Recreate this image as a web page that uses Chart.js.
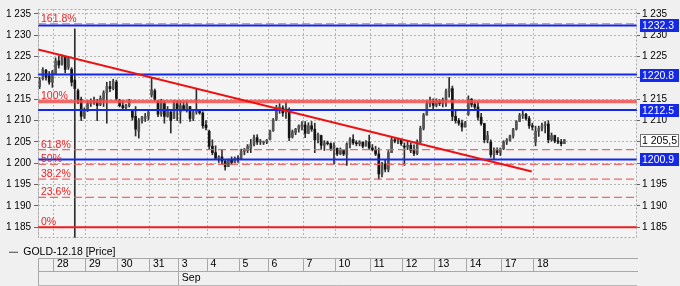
<!DOCTYPE html>
<html>
<head>
<meta charset="utf-8">
<script src="https://cdn.jsdelivr.net/npm/chart.js@4.4.0/dist/chart.umd.min.js"></script>
<style>
  html, body { margin: 0; padding: 0; background: #f0f0f0; }
  canvas { display: block; }
</style>
</head>
<body>
<canvas id="chart_gold" width="680" height="286"></canvas>
<script>
// GOLD-12.18 price bars, one row per trading day (27 Aug partial ... 18 Sep)
var opens = [
  1218, 1219.8, 1221.8, 1220.5, 1219,
  1221, 1224, 1223.2, 1225, 1222.5, 1222, 1219.5, 1217, 1215, 1211,
  1212.5, 1214, 1214.5, 1214.5, 1213.8, 1215, 1216.5, 1218, 1217.5, 1219,
  1214.8, 1213.5, 1213, 1213.5, 1212.4, 1211, 1207.5, 1210, 1210.5, 1211,
  1216, 1217, 1214.5, 1211.5, 1214, 1211, 1212, 1210.5, 1214,
  1212, 1213.5, 1212.8, 1213.3, 1210.5, 1212, 1212.3, 1211.8, 1209,
  1207.5, 1204, 1202.5, 1201.2, 1201.5, 1200.5, 1199.2, 1200.8, 1200.2, 1201.2,
  1201, 1202.8, 1203, 1203.5, 1204.5, 1206, 1205, 1204.8, 1205,
  1205.6, 1207.6, 1210.3, 1212.5, 1213, 1212, 1212.5, 1206.2, 1207.2, 1208, 1208.5,
  1209, 1207, 1208.8, 1208, 1205.5, 1206.5, 1204.2, 1204.8, 1204.6, 1203.5,
  1203.5, 1202.2, 1203, 1202, 1204.5, 1205.6, 1204.8, 1204.6, 1205, 1204, 1205,
  1203.6, 1203.2, 1202.2, 1197.5, 1199.8, 1198.6, 1202.5, 1205.5, 1205.2, 1205.4,
  1204, 1203.8, 1204.2, 1203, 1202.3, 1205, 1208.2, 1211.3, 1214, 1214.5,
  1213.6, 1214.5, 1214, 1215, 1216.8, 1217.5, 1211, 1210, 1209.4, 1208.5,
  1211.5, 1215, 1213.8, 1213.2, 1210.8, 1209.3, 1205.5, 1205, 1202, 1203, 1202.5,
  1203.4, 1205, 1205.4, 1206.4, 1208, 1209.8, 1211.2, 1211.5, 1210.5, 1208.8,
  1205, 1207.5, 1208.2, 1208.8, 1209.2, 1205.5, 1206.5, 1205.2, 1205, 1204.6
];
var highs = [
  1220.1, 1222.4, 1222, 1221.5, 1221.8,
  1224.7, 1225.2, 1225.4, 1225, 1225, 1222.4, 1231.5, 1217.4, 1215.5, 1213,
  1214.6, 1215.1, 1215.5, 1215, 1215.8, 1217, 1219, 1219.2, 1219.7, 1219.5,
  1215, 1214.7, 1213.8, 1215, 1212.6, 1213.3, 1210.5, 1211, 1211.7, 1212.4,
  1220, 1217.4, 1214.7, 1215, 1214.6, 1213.3, 1212.6, 1214.7, 1214.7,
  1214.6, 1214.4, 1214.4, 1213.3, 1212.4, 1217.4, 1212.6, 1212.1, 1210,
  1207.8, 1205.5, 1204.1, 1201.8, 1203.2, 1200.9, 1201, 1201.5, 1201.5, 1201.8,
  1203.3, 1203.5, 1204.4, 1205.6, 1206.6, 1206.7, 1205.6, 1205.2, 1205.6,
  1207.8, 1210.5, 1213.6, 1214, 1213.5, 1214.4, 1213, 1207.8, 1208.2, 1209, 1209.8,
  1209.8, 1209.5, 1209.8, 1209.4, 1207.1, 1206.6, 1205.3, 1205.2, 1204.8, 1204.8,
  1203.6, 1203.6, 1203, 1204.8, 1206, 1206.7, 1205.3, 1205.3, 1204.8, 1205.3, 1206.6,
  1204.4, 1204, 1203.6, 1200.2, 1200.7, 1203, 1206, 1206, 1205.6, 1205.6,
  1204.8, 1205.3, 1204.8, 1204.3, 1205.5, 1208.7, 1211.7, 1214.6, 1215.5, 1215.1,
  1215.1, 1214.9, 1215.3, 1217.4, 1220.1, 1218.1, 1212.4, 1210.5, 1210.1, 1209.8,
  1215.8, 1215.2, 1214.3, 1214.4, 1211.7, 1209.4, 1207.5, 1205.5, 1203.6, 1203.6, 1203.6,
  1205.3, 1205.8, 1206.6, 1208.2, 1210, 1211.7, 1212.3, 1211.7, 1211, 1209.4,
  1208.7, 1208.7, 1209.4, 1209.8, 1210, 1207.1, 1206.6, 1206, 1205.6, 1205.6
];
var lows = [
  1217.5, 1219.5, 1219.5, 1218.5, 1217.8,
  1220.8, 1222.3, 1223, 1221.2, 1222, 1218.1, 1180, 1214, 1210, 1210.5,
  1212.1, 1213.3, 1213.8, 1210, 1213.5, 1213.3, 1209.4, 1216.8, 1217.2, 1214.8,
  1213.2, 1212.4, 1212.4, 1213.2, 1210.1, 1206.4, 1205.9, 1209.4, 1209.8, 1210.1,
  1215.5, 1214.6, 1210.9, 1211, 1209.4, 1210.8, 1207.1, 1210.5, 1210,
  1209.4, 1212.3, 1212, 1209.8, 1210, 1211.5, 1211.5, 1208.2, 1207.8,
  1203.2, 1202, 1200.9, 1200.2, 1199.8, 1198.4, 1199.5, 1199.8, 1200.2, 1200.2,
  1200.9, 1202, 1202.5, 1202.5, 1204.1, 1204.4, 1204.4, 1204.4, 1204.6,
  1205.5, 1207.5, 1210, 1211.7, 1211, 1210.5, 1205.3, 1205.9, 1206.7, 1207.3, 1207.8,
  1206, 1207, 1207.5, 1202.5, 1204.8, 1203.2, 1203, 1204.3, 1203, 1199.8,
  1201.8, 1202, 1201.8, 1199.5, 1203.6, 1204.4, 1204.1, 1204.1, 1203.6, 1204.1, 1203.2,
  1202.9, 1201.8, 1196.3, 1196.8, 1198, 1198, 1202.5, 1204.8, 1204.6, 1204.2,
  1199.5, 1203.2, 1202.5, 1201.8, 1202, 1204.8, 1207.8, 1211.3, 1213.2, 1212.5,
  1213.2, 1213.5, 1213.2, 1213.3, 1215.5, 1210, 1209.4, 1208.9, 1207.5, 1208.5,
  1211.2, 1213.2, 1212.7, 1210.1, 1208.9, 1204.8, 1204.8, 1201.4, 1200.9, 1202, 1201.8,
  1203.2, 1204.4, 1205.2, 1205.9, 1207.8, 1209.8, 1210.5, 1210.1, 1208.2, 1207.8,
  1204.1, 1206.3, 1207.6, 1207.1, 1204.8, 1205.2, 1204.8, 1204.6, 1204.1, 1204.6
];
var closes = [
  1219.5, 1222, 1220.2, 1219, 1221.5,
  1224, 1223, 1225, 1222, 1224.5, 1219, 1217.5, 1215, 1211, 1212.5,
  1214, 1214.5, 1214.2, 1213.5, 1215.2, 1216.5, 1218, 1217.5, 1219.2, 1215.2,
  1213.5, 1213, 1213.5, 1214.6, 1210.8, 1208, 1210, 1210.8, 1211, 1212,
  1217.2, 1215, 1211.5, 1214.5, 1211, 1212.5, 1210, 1214, 1212.5,
  1213.5, 1212.8, 1213.8, 1210.5, 1212, 1212.3, 1211.8, 1208.8, 1208.3,
  1204, 1202.5, 1201.2, 1201.5, 1200.5, 1199.2, 1200.8, 1200.2, 1201.2, 1200.8,
  1202.8, 1203, 1204, 1204.5, 1206, 1205, 1205, 1205, 1205.4,
  1207.5, 1210.2, 1213, 1213.2, 1211.8, 1213, 1206, 1207.4, 1208, 1208.8, 1209.2,
  1207, 1208.8, 1208, 1205.5, 1206.8, 1204.2, 1204.8, 1204.6, 1203.5, 1204,
  1202.2, 1203, 1202.2, 1204.5, 1205.6, 1204.8, 1204.6, 1205, 1204, 1205, 1203.6,
  1203.2, 1202.2, 1197.5, 1199.8, 1198.6, 1202.5, 1205.5, 1205.2, 1205.4, 1204.6,
  1203.8, 1204.2, 1203, 1202.3, 1205, 1208.2, 1211.3, 1214, 1214.5, 1213.6,
  1214.5, 1214, 1215, 1216.8, 1217.5, 1211, 1210, 1209.4, 1208.5, 1209.5,
  1215, 1213.8, 1213.2, 1210.8, 1209.3, 1205.5, 1206.5, 1202, 1203, 1202.5, 1203.4,
  1205, 1205.4, 1206.4, 1208, 1209.8, 1211.2, 1211.5, 1210.5, 1208.8, 1208.5,
  1207.5, 1208.2, 1208.8, 1209.2, 1205.5, 1206.5, 1205.2, 1205, 1204.6, 1205.5
];

// date strip: bar index where each day starts
var dayLabels = ['', '28', '29', '30', '31', '3', '4', '5', '6', '7', '10', '11', '12', '13', '14', '17', '18'];
var dayTicks = [-5, 0, 10, 20, 30, 39, 48, 58, 67, 78, 88, 99, 109, 119, 129, 140, 150];
var monthLabels = ['', 'Sep'];
var monthTicks = [-5, 39];
var yTicks = [1185, 1190, 1195, 1200, 1205, 1210, 1215, 1220, 1225, 1230, 1235];

// drawn levels
var blueLevels = [1232.3, 1220.8, 1212.5, 1200.9];
var fibNames = ['161.8%', '100%', '61.8%', '50%', '38.2%', '23.6%', '0%'];
var fibLevels = [1232.7, 1214.5, 1203.2, 1199.75, 1196.3, 1192.0, 1185.0];
var trendX = [-5, 149.3];
var trendY = [1226.65, 1198.1];
var lastPrice = 1205.5;

const xMin = -5;
const xMax = 182.2;
const firstBar = -5;

Chart.defaults.font.family = "'Liberation Sans', Arial, sans-serif";
Chart.defaults.font.size = 10;
Chart.defaults.color = '#000';

function spaced(v) {
    return String(v).replace(/\B(?=(\d{3})+(?!\d))/g, ' ');
}

function hLine(v) {
    return [{ x: xMin, y: v }, { x: xMax, y: v }];
}

const decorPlugin = {
    id: 'decor',
    beforeDraw(chart) {
        const { ctx, chartArea: a } = chart;
        ctx.save();
        ctx.fillStyle = '#f4f4f4';
        ctx.fillRect(a.left, a.top, a.width, a.height);
        ctx.restore();
    },
    afterDatasetsDraw(chart) {
        const { ctx, chartArea: a } = chart;
        const y = chart.scales.y;
        ctx.save();
        ctx.font = "10.5px 'Liberation Sans', Arial, sans-serif";
        ctx.fillStyle = '#ee2222';
        ctx.textBaseline = 'alphabetic';
        fibLevels.forEach((v, i) => {
            ctx.fillText(fibNames[i], a.left + 3, y.getPixelForValue(v) - 2);
        });
        ctx.strokeStyle = '#a8a8a8';
        ctx.lineWidth = 1;
        ctx.setLineDash([2, 2]);
        ctx.strokeRect(a.left + 0.5, a.top + 0.5, a.width - 1, a.height - 1);
        ctx.restore();
    },
    afterDraw(chart) {
        const { ctx, chartArea: a } = chart;
        const y2 = chart.scales.y2;
        let tags = blueLevels.map(v => ({ v: v, text: v.toFixed(1), bg: '#1428e8', fg: '#fff', line: '#1428e8' }));
        tags.push({ v: lastPrice, text: spaced(lastPrice).replace('.', ','), bg: '#fff', fg: '#000', line: '#707070' });
        ctx.save();
        ctx.font = "10.5px 'Liberation Sans', Arial, sans-serif";
        ctx.textBaseline = 'middle';
        tags.forEach(t => {
            const py = Math.round(y2.getPixelForValue(t.v));
            const left = a.right + 3;
            ctx.fillStyle = t.bg;
            ctx.fillRect(left, py - 6, 39, 13);
            ctx.strokeStyle = t.line;
            ctx.strokeRect(left + 0.5, py - 5.5, 38, 12);
            ctx.fillStyle = t.fg;
            ctx.fillText(t.text, left + 2, py + 1);
        });
        // bottom edge of the date strip
        ctx.strokeStyle = '#b8b8b8';
        ctx.beginPath();
        ctx.moveTo(a.left, 285.5);
        ctx.lineTo(a.right, 285.5);
        ctx.stroke();
        ctx.restore();
    }
};

function createChart() {

    const wickData = highs.map((h, i) => ({ x: firstBar + i + 0.5, y: [lows[i], h] }));
    const bodyData = opens.map((o, i) => ({ x: firstBar + i + 0.5, y: [o, closes[i]] }));
    const bodyColors = opens.map((o, i) => closes[i] >= o ? '#555' : '#141414');

    let fdatasets = [];

    fibLevels.forEach((v, i) => {
        let style = { borderColor: 'rgba(240, 90, 90, 0.9)', borderWidth: 1.2, borderDash: [8, 4] };
        if (fibNames[i] === '100%') {
            style = { borderColor: 'rgba(238, 80, 80, 0.85)', borderWidth: 3.5, borderDash: [] };
        }
        if (fibNames[i] === '0%') {
            style = { borderColor: '#ee1c1c', borderWidth: 2, borderDash: [] };
        }
        fdatasets.push(Object.assign({
            type: 'line',
            label: fibNames[i],
            data: hLine(v),
            pointRadius: 0,
            order: 3
        }, style));
    });

    blueLevels.forEach(v => {
        fdatasets.push({
            type: 'line',
            label: 'level ' + v,
            data: hLine(v),
            borderColor: '#1428e8',
            borderWidth: 2,
            pointRadius: 0,
            order: 2
        });
    });

    fdatasets.push({
        type: 'line',
        label: 'trend',
        data: trendX.map((x, i) => ({ x: x, y: trendY[i] })),
        borderColor: '#ee1111',
        borderWidth: 2,
        pointRadius: 0,
        order: 1
    });

    fdatasets.push({
        type: 'bar',
        label: 'GOLD-12.18 wicks',
        data: wickData,
        backgroundColor: '#2e2e2e',
        barThickness: 1,
        grouped: false,
        order: 6
    });

    fdatasets.push({
        type: 'bar',
        label: 'GOLD-12.18',
        data: bodyData,
        backgroundColor: bodyColors,
        barThickness: 2,
        minBarLength: 1,
        grouped: false,
        order: 5
    });

    const chart = new Chart('chart_gold', {
        type: 'bar',
        data: { datasets: fdatasets },
        plugins: [decorPlugin],
        options: {
            responsive: false,
            animation: false,
            events: [],
            layout: { padding: { top: 3, left: 0, right: 0, bottom: 1 } },
            plugins: {
                tooltip: { enabled: false },
                legend: {
                    display: true,
                    position: 'bottom',
                    align: 'start',
                    maxHeight: 20,
                    labels: {
                        padding: 9,
                        boxWidth: 9,
                        boxHeight: 1,
                        color: '#111',
                        font: { size: 10.5 },
                        generateLabels: () => [{
                            text: 'GOLD-12.18 [Price]',
                            fillStyle: '#444',
                            strokeStyle: '#444',
                            lineWidth: 0,
                            hidden: false,
                            datasetIndex: 0
                        }]
                    }
                }
            },
            scales: {
                x: {
                    type: 'linear',
                    axis: 'x',
                    position: 'bottom',
                    weight: 2500,
                    min: xMin,
                    max: xMax,
                    offset: false,
                    afterBuildTicks: axis => { axis.ticks = dayTicks.map(v => ({ value: v })); },
                    afterFit: axis => { axis.height = 13; },
                    grid: { color: '#b4b4b4', offset: false, tickLength: 13, tickColor: '#a8a8a8', tickBorderDash: [] },
                    border: { display: true, color: '#a8a8a8', dash: [2, 2] },
                    ticks: {
                        autoSkip: false,
                        maxRotation: 0,
                        align: 'start',
                        padding: -13,
                        labelOffset: 3,
                        font: { size: 10.5 },
                        callback: (v, i) => dayLabels[i]
                    }
                },
                x2: {
                    type: 'linear',
                    axis: 'x',
                    position: 'bottom',
                    weight: 3000,
                    min: xMin,
                    max: xMax,
                    offset: false,
                    afterBuildTicks: axis => { axis.ticks = monthTicks.map(v => ({ value: v })); },
                    afterFit: axis => { axis.height = 14; },
                    grid: { drawOnChartArea: false, offset: false, tickLength: 14, tickColor: '#a8a8a8', tickBorderDash: [] },
                    border: { display: true, color: '#a8a8a8' },
                    ticks: {
                        autoSkip: false,
                        maxRotation: 0,
                        align: 'start',
                        padding: -13,
                        labelOffset: 3,
                        font: { size: 10.5 },
                        callback: (v, i) => monthLabels[i]
                    }
                },
                y: {
                    type: 'linear',
                    position: 'left',
                    min: 1182.5,
                    max: 1236.15,
                    bounds: 'data',
                    afterBuildTicks: axis => { axis.ticks = yTicks.map(v => ({ value: v })); },
                    afterFit: axis => { axis.width = 38; },
                    grid: { color: '#b4b4b4', tickLength: 4, tickColor: '#666', tickBorderDash: [] },
                    border: { display: false, dash: [2, 2] },
                    ticks: { padding: 3, callback: v => spaced(v) }
                },
                y2: {
                    type: 'linear',
                    position: 'right',
                    min: 1182.5,
                    max: 1236.15,
                    bounds: 'data',
                    afterBuildTicks: axis => { axis.ticks = yTicks.map(v => ({ value: v })); },
                    afterFit: axis => { axis.width = 43; },
                    grid: { drawOnChartArea: false, tickLength: 3, tickColor: '#666', tickBorderDash: [] },
                    border: { display: false },
                    ticks: { padding: 2, callback: v => spaced(v) }
                }
            }
        }
    });

    return chart;
}

createChart();
</script>
</body>
</html>
